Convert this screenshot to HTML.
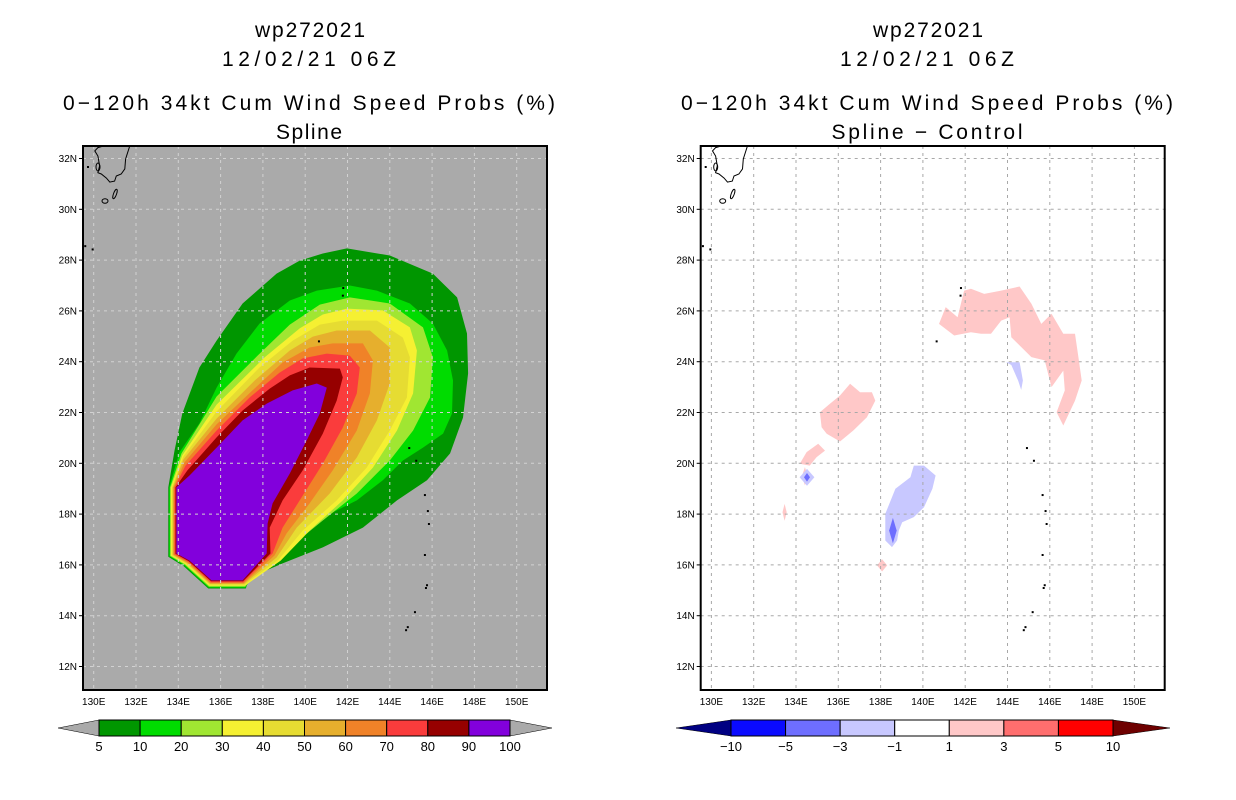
<!DOCTYPE html>
<html><head><meta charset="utf-8"><title>wp272021 wind speed probs</title>
<style>
html,body{margin:0;padding:0;background:#fff;}
svg{display:block;font-family:"Liberation Sans",sans-serif;}
</style></head>
<body>
<svg id="chart" width="1236" height="800" viewBox="0 0 1236 800" xmlns="http://www.w3.org/2000/svg">
<defs>
<clipPath id="clipL"><rect x="83" y="146" width="464" height="544"/></clipPath>
<clipPath id="clipR"><rect x="701" y="146" width="465" height="544"/></clipPath>
</defs>
<g font-size="21" text-anchor="middle">
<text x="310" y="37" textLength="110">wp272021</text>
<text x="309" y="66" textLength="174">12/02/21 06Z</text>
<text x="309" y="110" textLength="492">0−120h 34kt Cum Wind Speed Probs (%)</text>
<text x="309" y="139" textLength="66">Spline</text>
</g>
<g font-size="21" text-anchor="middle">
<text x="928" y="37" textLength="110">wp272021</text>
<text x="927" y="66" textLength="174">12/02/21 06Z</text>
<text x="927" y="110" textLength="492">0−120h 34kt Cum Wind Speed Probs (%)</text>
<text x="927" y="139" textLength="191">Spline − Control</text>
</g>
<g id="left"></g>
<g id="right"></g>
<g id="cbars"></g>
</svg>
<script>
// ---- data ----
const lonTicks = [130,132,134,136,138,140,142,144,146,148,150];
const latTicks = [12,14,16,18,20,22,24,26,28,30,32];
const probLevels = [5,10,20,30,40,50,60,70,80,90,100];
const probColors = ["#009600","#00dc00","#a0e632","#f5f032","#e6dc32","#e6af2d","#f08228","#fa3c3c","#960000","#8200dc"];
const diffLevels = [-10,-5,-3,-1,1,3,5,10];
const diffColors = ["#000082","#0a0aff","#6e6eff","#c8c8ff","#ffffff","#ffc8c8","#ff6e6e","#ff0000","#6e0000"];
// contour arcs (lon,lat) for each threshold, upper/right boundary
const arc5 = [[133.82,20.50],[134.19,21.96],[135.0,23.77],[135.81,24.83],[137.04,26.29],[138.65,27.47],[139.74,27.98],[140.83,28.26],[141.97,28.46],[144.0,28.18],[146.04,27.47],[147.18,26.53],[147.65,25.11],[147.70,23.54],[147.46,21.80],[146.85,20.39],[145.76,19.33],[144.34,18.54],[142.73,17.47],[140.83,16.69],[138.93,16.06],[137.37,15.50]];
const arc10 = [[134.05,20.43],[135.0,21.57],[135.81,22.98],[136.75,24.32],[137.84,25.50],[139.27,26.41],[140.55,26.80],[142.11,27.0],[143.39,26.80],[144.95,26.29],[146.04,25.50],[146.71,24.44],[146.99,23.26],[146.94,21.96],[146.52,21.17],[145.57,20.62],[144.62,20.11],[143.67,19.33],[142.44,18.54],[140.83,17.87],[139.41,17.08],[138.32,16.49],[137.61,15.70]];
const arc20 = [[134.15,20.39],[135.81,22.63],[137.75,24.24],[139.27,25.46],[140.69,26.25],[142.11,26.53],[144.0,26.29],[145.57,25.35],[146.04,24.17],[145.90,22.59],[145.10,21.29],[144.0,20.11],[142.44,18.81],[140.83,17.75],[139.27,16.69],[138.03,15.94]];
const arc30 = [[134.19,20.31],[135.81,22.31],[138.08,24.17],[139.74,25.31],[140.83,25.86],[141.97,26.09],[143.67,26.02],[144.95,25.35],[145.28,24.44],[145.10,22.75],[144.34,21.29],[143.20,19.83],[141.78,18.54],[140.21,17.35],[138.84,16.17]];
const arc40 = [[134.24,20.27],[135.81,22.04],[137.84,23.77],[139.41,24.83],[140.69,25.46],[141.78,25.62],[143.39,25.62],[144.62,24.95],[144.95,24.17],[144.81,22.59],[144.0,21.29],[142.91,19.83],[141.49,18.54],[139.88,17.35],[138.74,16.21]];
const arc50 = [[134.24,20.15],[135.81,21.76],[137.61,23.26],[139.27,24.44],[140.36,24.99],[141.49,25.23],[143.06,25.23],[144.0,24.56],[144.0,23.14],[143.39,21.69],[142.44,20.23],[141.16,18.81],[139.60,17.47],[138.65,16.29]];
const arc60 = [[134.29,20.03],[135.81,21.53],[137.51,22.87],[138.93,23.97],[140.21,24.56],[141.30,24.72],[142.73,24.72],[143.20,24.05],[143.06,22.75],[142.44,21.29],[141.30,19.72],[140.21,18.42],[139.12,17.24],[138.55,16.37]];
const arc70 = [[134.34,19.91],[135.81,21.29],[137.37,22.59],[138.79,23.57],[139.88,24.13],[141.02,24.32],[142.11,24.24],[142.58,23.77],[142.44,22.75],[141.78,21.41],[140.83,19.99],[139.74,18.54],[138.93,17.47],[138.46,16.45]];
const arc80 = [[134.43,19.72],[135.81,21.02],[137.04,22.08],[138.32,22.94],[139.27,23.46],[140.21,23.77],[141.64,23.73],[141.78,23.38],[141.49,22.47],[140.83,21.17],[139.88,19.72],[138.93,18.54],[138.32,17.47],[138.36,16.45]];
const arc90 = [[134.53,19.52],[135.81,20.62],[137.04,21.69],[138.18,22.35],[139.41,22.87],[140.55,23.14],[141.02,22.98],[140.69,21.96],[140.07,20.90],[139.27,19.60],[138.46,18.42],[138.22,17.63],[138.18,16.45]];
const arcs = [arc5,arc10,arc20,arc30,arc40,arc50,arc60,arc70,arc80,arc90];
// straight-edged southwest boundary of the field (lon,lat)
const swEdge = [[137.04,15.39],[135.57,15.39],[134.53,16.17],[133.91,16.45],[133.91,19.05]];
// difference-field patches: [colorIndex, points]
const diffPatches = [
 [5,[[140.76,25.49],[141.08,26.15],[141.64,25.75],[141.95,26.80],[142.27,26.87],[142.90,26.67],[143.70,26.80],[144.57,26.96],[145.13,26.28],[145.60,25.49],[146.08,25.89],[146.64,25.10],[147.19,25.10],[147.35,24.18],[147.51,23.26],[147.19,22.47],[146.64,21.49],[146.32,22.01],[146.71,22.87],[146.64,23.65],[146.08,23.00],[145.76,24.05],[145.13,24.18],[144.18,24.96],[144.10,25.75],[143.70,25.62],[143.22,25.10],[142.75,25.10],[142.27,25.16],[141.48,25.03]]],
 [3,[[143.94,23.98],[144.57,23.98],[144.73,23.26],[144.65,22.89],[144.50,23.26],[144.18,23.87]]],
 [5,[[135.13,22.01],[135.60,22.34],[136.08,22.67],[136.56,23.13],[137.03,22.80],[137.59,22.80],[137.75,22.47],[137.35,21.81],[136.71,21.29],[136.08,20.86],[135.45,21.16],[135.21,21.42]]],
 [5,[[134.18,19.98],[134.50,20.44],[135.05,20.77],[135.37,20.50],[134.97,20.24],[134.65,19.91]]],
 [5,[[134.28,19.49],[134.42,19.85],[134.56,19.49],[134.42,19.13]]],
 [3,[[134.17,19.45],[134.52,19.78],[134.87,19.45],[134.52,19.12]]],
 [2,[[134.38,19.45],[134.52,19.62],[134.66,19.45],[134.52,19.28]]],
 [5,[[133.36,18.07],[133.46,18.40],[133.56,18.07],[133.46,17.74]]],
 [5,[[137.83,15.98],[138.07,16.22],[138.31,15.98],[138.07,15.74]]],
 [3,[[139.57,19.91],[140.05,19.91],[140.60,19.52],[140.45,19.0],[140.05,18.27],[139.57,17.88],[139.02,17.68],[138.86,17.35],[138.78,16.96],[138.54,16.70],[138.22,16.96],[138.22,18.01],[138.70,19.0],[139.41,19.45]]],
 [2,[[138.40,17.35],[138.58,17.85],[138.76,17.35],[138.58,16.85]]]
];
// coastline fragments (lon,lat)
const kyushu = [[131.70,32.49],[131.51,31.98],[131.47,31.59],[131.30,31.39],[131.07,31.31],[130.99,31.11],[130.76,31.07],[130.60,31.23],[130.36,31.39],[130.20,31.44],[130.28,31.71],[130.20,32.10],[130.05,32.30],[130.20,32.43],[130.44,32.49]];
const islandDots = [[129.6,28.55],[129.95,28.42],[141.78,26.6],[141.8,26.9],[140.65,24.8],[144.92,20.6],[145.25,20.1],[145.66,18.75],[145.8,18.12],[145.85,17.61],[145.66,16.39],[145.71,15.09],[145.76,15.2],[145.19,14.14],[144.77,13.43],[144.85,13.55]];

// ---- axes ----
function lx(lon){return 93.7+21.15*(lon-130);}
function ly(lat){return 666.5-25.4*(lat-12);}
const RX_OFF = 617.7;
const NS="http://www.w3.org/2000/svg";
function el(tag,attrs,parent){const e=document.createElementNS(NS,tag);for(const k in attrs)e.setAttribute(k,attrs[k]);parent.appendChild(e);return e;}
function pts(arr,off){return arr.map(p=>(lx(p[0])+off).toFixed(1)+","+ly(p[1]).toFixed(1)).join(" ");}

function drawPanel(g,off,isLeft){
  const clip = el('g',{'clip-path':isLeft?'url(#clipL)':'url(#clipR)'},g);
  
  
  const bg = el('rect',{x:83+(isLeft?0:618),y:146,width:isLeft?464:465,height:544,fill:isLeft?'#aaaaaa':'#ffffff'},clip);
  
  
  if(isLeft){
    arcs.forEach((arc,i)=>{
      const pad=(9-i)*0.9;
      const dirs=[[0.4,1],[-0.4,1],[-0.7,0.7],[-1,0.4],[-1,0]];
      const edge=swEdge.map((p,j)=>[lx(p[0])+dirs[j][0]*pad, ly(p[1])+dirs[j][1]*pad]);
      const s=arc.map(p=>[lx(p[0]),ly(p[1])]).concat(edge).map(q=>q[0].toFixed(1)+","+q[1].toFixed(1)).join(" ");
      const poly=el('polygon',{points:s,fill:probColors[i]},clip);
      
      
    });
  } else {
    diffPatches.forEach((d,i)=>{
      const poly=el('polygon',{points:pts(d[1],off),fill:diffColors[d[0]]},clip);
      
      
    });
  }
  // grid
  const grid=el('g',{stroke:isLeft?'#d2d2d2':'#a8a8a8','stroke-width':1,'stroke-dasharray':'3,4'},clip);
  
  
  lonTicks.forEach(v=>{el('line',{x1:lx(v)+off,x2:lx(v)+off,y1:146,y2:690},grid);});
  latTicks.forEach(v=>{el('line',{x1:83+off,x2:548+off,y1:ly(v),y2:ly(v)},grid);});
  // coastlines
  const coast=el('g',{stroke:'#000',fill:'none','stroke-width':1},clip);
  
  
  el('polyline',{points:pts(kyushu,off)},coast);
  el('ellipse',{cx:105+off,cy:201,rx:3,ry:2.3},coast);
  el('ellipse',{cx:115+off,cy:194,rx:1.5,ry:5,transform:`rotate(20 ${115+off} 194)`},coast);
  el('ellipse',{cx:98+off,cy:167,rx:2,ry:4},coast);
  el('rect',{x:87+off,y:166,width:2,height:2,fill:'#000',stroke:'none'},coast);
  islandDots.forEach(p=>{el('rect',{x:lx(p[0])+off-1,y:ly(p[1])-1,width:2,height:2,fill:'#000',stroke:'none'},coast);});
  // frame
  const fr=el('rect',{x:83+off,y:146,width:464,height:544,fill:'none',stroke:'#000','stroke-width':2},g);
  
  
  // ticks & labels
  const ax=el('g',{'font-size':10,fill:'#000'},g);
  
  
  latTicks.forEach(v=>{
    el('line',{x1:79+off,x2:83+off,y1:ly(v),y2:ly(v),stroke:'#000'},ax);
    const t=el('text',{x:77+off,y:ly(v)+3.5,'text-anchor':'end'},ax);
    t.textContent=v+'N';
    
    
  });
  lonTicks.forEach(v=>{
    const t=el('text',{x:lx(v)+off,y:705,'text-anchor':'middle'},ax);
    t.textContent=v+'E';
    
    
  });
}
drawPanel(document.getElementById('left'),0,true);
drawPanel(document.getElementById('right'),RX_OFF,false);

// ---- colorbars ----
function drawBar(g,x0,x1,tri0,tri1,y0,y1,colors,labels,name){
  const n=colors.length-2, w=(x1-x0)/n, ym=(y0+y1)/2;
  const bar=el('g',{},g);
  
  
  const a=el('polygon',{points:`${tri0},${ym} ${x0},${y0} ${x0},${y1}`,fill:colors[0],stroke:'#000','stroke-width':0.5},bar);
  
  
  const b=el('polygon',{points:`${tri1},${ym} ${x1},${y0} ${x1},${y1}`,fill:colors[colors.length-1],stroke:'#000','stroke-width':0.5},bar);
  
  
  for(let i=0;i<n;i++){
    const r=el('rect',{x:x0+i*w,y:y0,width:w,height:y1-y0,fill:colors[i+1],stroke:'#000','stroke-width':1},bar);
    
    
  }
  labels.forEach((l,i)=>{
    const t=el('text',{x:x0+i*w,y:y1+15,'text-anchor':'middle','font-size':13},bar);
    t.textContent=String(l).replace('-','−');
    
    
  });
}
const cb=document.getElementById('cbars');
drawBar(cb,99,510,58,552,720,736,['#aaaaaa'].concat(probColors).concat(['#aaaaaa']),probLevels,'left-colorbar');
drawBar(cb,731,1113,676,1170,720,736,diffColors,diffLevels,'right-colorbar');
</script>
</body></html>
